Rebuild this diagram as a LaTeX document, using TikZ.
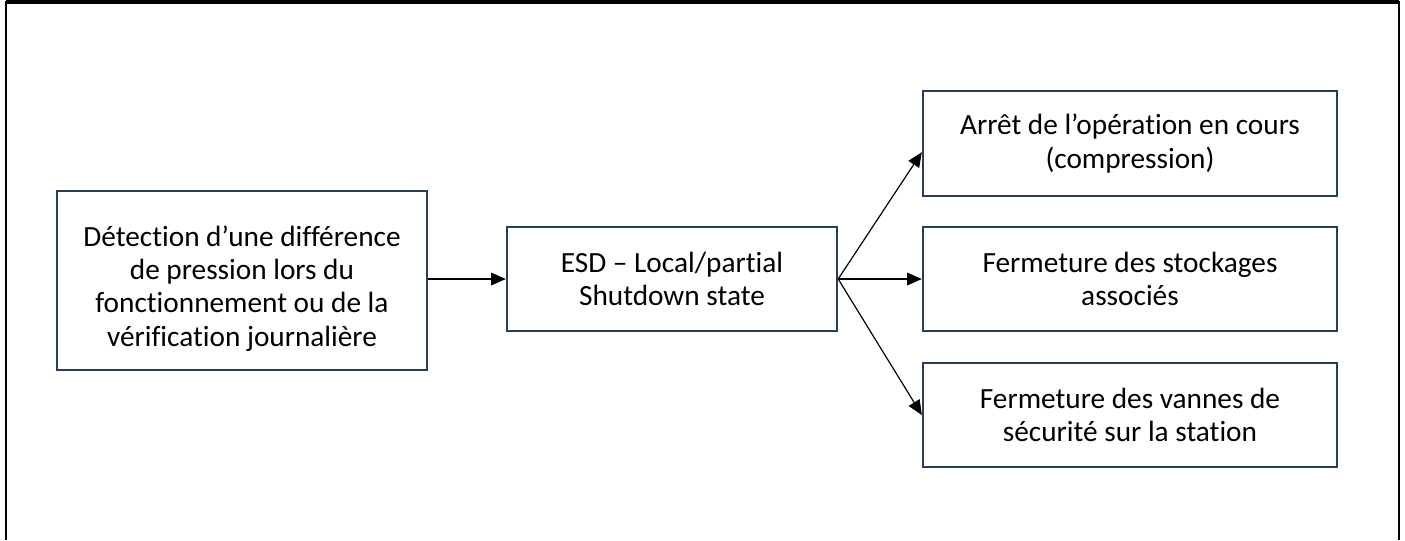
\documentclass[tikz,border=0pt]{standalone}
\usepackage{fontspec}
\setmainfont{Carlito}[Ligatures={NoCommon}]
\usetikzlibrary{arrows.meta}

\definecolor{boxblue}{RGB}{40,62,92}

\begin{document}
\begin{tikzpicture}[
    x=0.015cm, y=-0.015cm,
    every node/.style={font=\fontsize{12.5pt}{14.2pt}\selectfont, align=center},
    >={Triangle[length=0.22cm, width=0.19cm]},
    stepbox/.style={draw=boxblue, line width=1pt, inner sep=0pt},
    link/.style={->, line width=0.5pt, black},
]

% Parameters (pixel units, y downwards)
\def\Wright{414}
\def\Hright{104}

\useasboundingbox (0,0) rectangle (1405,540);

% === Outer frame (top, left, right) ===
\draw[line width=1.2pt] (6,540) -- (6,2) -- (1399,2) -- (1399,540);
\draw[line width=2pt] (6,2) -- (1399,2);

% === Cause and state ===
\node[stepbox, minimum width=370*0.015cm, minimum height=179*0.015cm] (detect) at (242,280.5)
    {\rule{0pt}{0.55cm}Détection d’une différence\\de pression lors du\\fonctionnement ou de la\\vérification journalière};
\node[stepbox, minimum width=330*0.015cm, minimum height=\Hright*0.015cm] (esd) at (672,279)
    {ESD – Local/partial\\Shutdown state};

% === Actions ===
\node[stepbox, minimum width=\Wright*0.015cm, minimum height=105*0.015cm] (stop) at (1130,143.5)
    {Arrêt de l’opération en cours\\(compression)};
\node[stepbox, minimum width=\Wright*0.015cm, minimum height=\Hright*0.015cm] (storage) at (1130,279)
    {Fermeture des stockages\\associés};
\node[stepbox, minimum width=\Wright*0.015cm, minimum height=\Hright*0.015cm] (valves) at (1130,415)
    {Fermeture des vannes de\\sécurité sur la station};

% === Connectors ===
\draw[link] (detect.east |- esd.west) -- (esd.west);
\draw[link] (esd.east) -- ([yshift=-0.13cm]stop.west);
\draw[link] (esd.east) -- (storage.west);
\draw[link] (esd.east) -- (valves.west);

\end{tikzpicture}
\end{document}
